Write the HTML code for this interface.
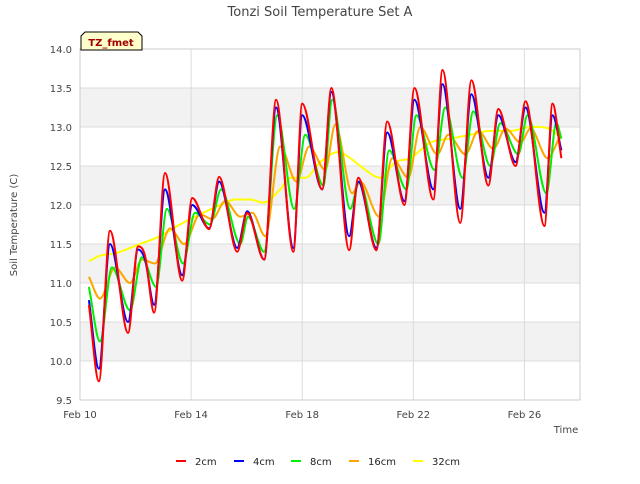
<!DOCTYPE html>
<html><head><meta charset="utf-8"><style>
body{margin:0;background:#fff;font-family:"DejaVu Sans","Liberation Sans",sans-serif}
svg text{font-family:"DejaVu Sans","Liberation Sans",sans-serif}
</style></head><body>
<svg id="c" width="640" height="480" xmlns="http://www.w3.org/2000/svg">
<text x="320" y="16" text-anchor="middle" font-size="13" fill="#444">Tonzi Soil Temperature Set A</text>
<g id="plot"></g>
<text transform="translate(17,225) rotate(-90)" text-anchor="middle" font-size="10" fill="#444">Soil Temperature (C)</text>
<text x="566" y="433" text-anchor="middle" font-size="10" fill="#444">Time</text>
<g>
<path d="M81,50 L81,36 L85,32 L138,32 L142,36 L142,50 Z" fill="#ffffcc" stroke="#000" stroke-width="1"/>
<text x="111" y="46" text-anchor="middle" font-size="10" font-weight="bold" fill="#a00000">TZ_fmet</text>
</g>
<g id="legend"></g>
</svg>
<script>
const yTicks=[9.5,10.0,10.5,11.0,11.5,12.0,12.5,13.0,13.5,14.0];
const xTickDays=[10,14,18,22,26];
const xTickLabels=["Feb 10","Feb 14","Feb 18","Feb 22","Feb 26"];
const seriesNames=["2cm","4cm","8cm","16cm","32cm"];
const seriesColors=["#ff0000","#0000ff","#00ee00","#ffa500","#ffff00"];
const daysShallow=[10.32,10.68,11.08,11.73,12.09,12.34,12.67,13.06,13.68,14.04,14.65,15.01,15.66,16.02,16.63,17.06,17.68,18.0,18.72,19.05,19.69,20.02,20.67,21.06,21.68,22.04,22.72,23.05,23.69,24.09,24.70,25.06,25.68,26.04,26.72,27.01,27.33];
const v2cm=[10.72,9.74,11.67,10.36,11.47,11.35,10.62,12.41,11.03,12.09,11.69,12.36,11.4,11.9,11.3,13.35,11.4,13.3,12.2,13.5,11.42,12.35,11.42,13.07,12.0,13.5,12.07,13.73,11.77,13.6,12.25,13.23,12.5,13.33,11.73,13.3,12.6];
const v4cm=[10.78,9.9,11.5,10.5,11.43,11.3,10.72,12.2,11.1,12.0,11.7,12.3,11.45,11.92,11.3,13.25,11.45,13.15,12.2,13.45,11.6,12.3,11.45,12.93,12.05,13.35,12.2,13.55,11.95,13.42,12.35,13.15,12.55,13.25,11.9,13.15,12.7];
const days8cm=[10.32,10.72,11.15,11.80,12.23,12.74,13.13,13.71,14.14,14.68,15.08,15.77,16.05,16.63,17.10,17.71,18.11,18.76,19.08,19.73,20.05,20.74,21.13,21.75,22.11,22.76,23.15,23.77,24.16,24.77,25.13,25.78,26.11,26.79,27.15,27.33];
const v8cm=[10.95,10.25,11.2,10.65,11.33,10.95,11.95,11.25,11.9,11.75,12.2,11.5,11.85,11.4,13.15,11.95,12.9,12.25,13.35,11.95,12.3,11.5,12.7,12.2,13.15,12.45,13.25,12.35,13.2,12.5,13.05,12.65,13.15,12.15,13.05,12.85];
const days16cm=[10.32,10.72,11.26,11.80,12.23,12.70,13.24,13.75,14.32,14.76,15.23,15.77,16.20,16.67,17.21,17.79,18.25,18.83,19.19,19.80,20.09,20.77,21.24,21.82,22.25,22.86,23.26,23.87,24.34,24.88,25.32,25.86,26.22,26.83,27.30];
const v16cm=[11.08,10.8,11.2,11.0,11.3,11.25,11.7,11.5,11.88,11.82,12.05,11.85,11.9,11.6,12.75,12.3,12.75,12.45,13.03,12.15,12.3,11.85,12.6,12.35,13.0,12.65,12.9,12.65,12.95,12.72,12.98,12.8,12.98,12.6,12.9];
const days32cm=[10.32,10.72,11.26,12.16,12.88,13.60,14.32,15.05,15.59,16.13,16.59,17.21,17.57,18.11,18.65,19.30,19.73,20.09,20.81,21.35,21.89,22.61,23.33,24.05,24.77,25.50,26.22,26.94,27.33];
const v32cm=[11.28,11.35,11.38,11.5,11.6,11.75,11.88,12.0,12.07,12.07,12.03,12.2,12.35,12.35,12.55,12.68,12.6,12.5,12.35,12.55,12.6,12.8,12.85,12.9,12.95,12.95,13.0,12.97,12.85];

const NS="http://www.w3.org/2000/svg";
const L=80,R=580,T=49,B=400;
const xs=d=>L+(d-10)*(R-L)/18;
const ys=v=>B-(v-9.5)*(B-T)/4.5;
function mk(tag,attrs,parent){const e=document.createElementNS(NS,tag);for(const k in attrs)e.setAttribute(k,attrs[k]);parent.appendChild(e);return e;}
const plot=document.getElementById('plot');
for(let i=0;i<yTicks.length-1;i++){
  if(i%2===1){const r=mk('rect',{x:L,y:ys(yTicks[i+1]),width:R-L,height:ys(yTicks[i])-ys(yTicks[i+1]),fill:'#f2f2f2'},plot);
  
  }
}
yTicks.forEach(t=>{
  const l=mk('line',{x1:L,x2:R,y1:ys(t),y2:ys(t),stroke:'#dcdcdc','stroke-width':1},plot);
  
  
  const tx=mk('text',{x:L-8,y:ys(t)+4,'text-anchor':'end','font-size':10,fill:'#444'},plot);
  tx.textContent=t.toFixed(1);
  
  
});
xTickDays.forEach((d,i)=>{
  const l=mk('line',{x1:xs(d),x2:xs(d),y1:T,y2:B,stroke:'#dcdcdc','stroke-width':1},plot);
  
  
  const tx=mk('text',{x:xs(d),y:B+18,'text-anchor':'middle','font-size':10,fill:'#444'},plot);
  tx.textContent=xTickLabels[i];
  
  
});
const fr=mk('rect',{x:L,y:T,width:R-L,height:B-T,fill:'none',stroke:'#cccccc'},plot);


function mono(px,py){
  const n=px.length;let d=`M${px[0]},${py[0]}`;
  const m=[];const dl=[];
  for(let i=0;i<n-1;i++)dl.push((py[i+1]-py[i])/(px[i+1]-px[i]));
  for(let i=0;i<n;i++){
    if(i===0)m.push(dl[0]);else if(i===n-1)m.push(dl[n-2]);
    else m.push(dl[i-1]*dl[i]<=0?0:(dl[i-1]+dl[i])/2);
  }
  for(let i=0;i<n-1;i++){const h=px[i+1]-px[i];
    d+=` C${px[i]+h/3},${py[i]+m[i]*h/3} ${px[i+1]-h/3},${py[i+1]-m[i+1]*h/3} ${px[i+1]},${py[i+1]}`;}
  return d;
}
const seriesDays=[daysShallow,daysShallow,days8cm,days16cm,days32cm];
const seriesVals=[v2cm,v4cm,v8cm,v16cm,v32cm];
[4,3,2,1,0].forEach(s=>{
  const px=seriesDays[s].map(xs),py=seriesVals[s].map(ys);
  const p=mk('path',{d:mono(px,py),fill:'none',stroke:seriesColors[s],'stroke-width':2},plot);
  
  
});
const lg=document.getElementById('legend');
const lx=[176,234,291,349,413];
seriesNames.forEach((n,i)=>{
  const g=mk('g',{},lg);
  
  
  mk('line',{x1:lx[i],x2:lx[i]+10,y1:461,y2:461,stroke:seriesColors[i],'stroke-width':2},g);
  const t=mk('text',{x:lx[i]+19,y:465,'font-size':10,fill:'#222'},g);t.textContent=n;
});
</script>
</body></html>
